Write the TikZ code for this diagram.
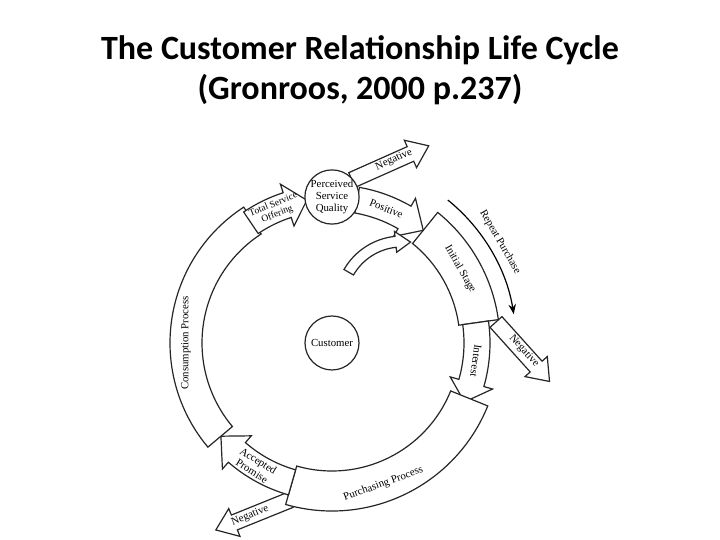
\documentclass[tikz,border=0pt]{standalone}
\usepackage{fontspec}
\setmainfont{Liberation Serif}
\newfontfamily\titlefont{Carlito}
\usetikzlibrary{arrows.meta}
\newcommand\arcarr[6]{% a1, ab, a2, rin, rout, wing
 \pgfmathsetmacro\rmid{(#4+#5)/2}
 \draw[shp] (#1:#5) arc[start angle=#1,end angle=#2,radius=#5] -- ({#2}:{#5+#6}) -- ({#3}:{\rmid}) -- ({#2}:{#4-#6}) -- (#2:#4) arc[start angle=#2,end angle=#1,radius=#4] -- cycle;}
\newcommand\arcblk[4]{% a1,a2,rin,rout
 \draw[shp] (#1:#4) arc[start angle=#1,end angle=#2,radius=#4] -- (#2:#3) arc[start angle=#2,end angle=#1,radius=#3] -- cycle;}
\newcommand\sarr[4]{% x,y,angle,length
 \begin{scope}[shift={(#1,#2)},rotate=#3]
 \draw[shp] (0,-8) -- (#4-20,-8) -- (#4-20,-15) -- (#4,0) -- (#4-20,15) -- (#4-20,8) -- (0,8) -- cycle;
 \end{scope}}
\begin{document}
\begin{tikzpicture}[x=0.5pt,y=0.5pt,
 shp/.style={draw=black!85,fill=white,line width=0.6pt,line join=miter},
 lbl/.style={font=\fontsize{5.4}{6}\selectfont,inner sep=0pt,align=center}]
\path[use as bounding box] (0,0) rectangle (720,540);
\node[font=\titlefont\bfseries\fontsize{17}{20}\selectfont,align=center] (title) at (360,470)
 {The Customer Relationship Life Cycle\\(Gronroos, 2000 p.237)};
\begin{scope}[shift={(332,197)}]
 % negative arrows
 \sarr{20}{163}{24}{84}
 \node[lbl,rotate=24] (neg1) at (62,183) {Negative};
 \sarr{164}{21}{-48}{80}
 \node[lbl,rotate=-48] (neg2) at (192,-8) {Negative};
 \sarr{-42}{-157}{-158}{80}
 \node[lbl,rotate=22] (neg3) at (-82,-173) {Negative};
 % ring
 \arcblk{51}{8}{128}{168}
 \node[lbl,rotate=-60] (init) at (30:148) {Initial Stage};
 \arcarr{8}{-16}{-24}{132}{158}{9}
 \node[lbl,rotate=-98] (int) at (-7:145) {Interest};
 \arcblk{-22}{-106}{128}{168}
 \node[lbl,rotate=20] (purch) at (-70:150) {Purchasing Process};
 \arcarr{-106}{-131}{-140}{132}{158}{9}
 \node[lbl,rotate=-32] (acc) at (-122:145) {Accepted\\Promise};
 \arcblk{-140}{-237}{130}{162}
 \node[lbl,rotate=90] (cons) at (180:146) {Consumption Process};
 \arcarr{124}{108}{100}{132}{158}{9}
 \node[lbl,rotate=22,font=\fontsize{4.8}{5.2}\selectfont] (tso) at (113:145) {Total Service\\Offering};
 \arcarr{80}{60}{51}{132}{158}{9}
 \node[lbl,rotate=-22] (pos) at (68:145) {Positive};
 % circles
 \node[shp,circle,minimum size=25pt,inner sep=0pt,lbl] (psq) at (0,146) {Perceived\\Service\\Quality};
 \node[shp,circle,minimum size=27pt,inner sep=0pt,lbl] (cust) at (0,0) {Customer};
 % repeat purchase
 \draw[line width=0.6pt,-{Stealth[length=5pt]}] (51:184) arc[start angle=51,end angle=9,radius=184];
 \node[lbl,rotate=-60] (rep) at (31:196) {Repeat Purchase};
 % inner curved arrow
 \begin{scope}[shift={(70,40)}]
  \arcarr{150}{96}{82}{56}{67}{5}
 \end{scope}
\end{scope}
\end{tikzpicture}
\end{document}
